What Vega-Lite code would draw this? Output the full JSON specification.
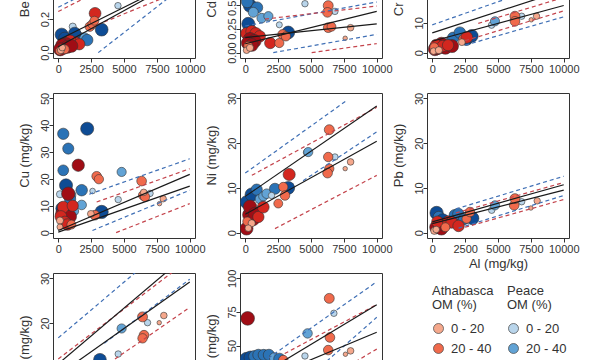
{
"$schema":"https://vega.github.io/schema/vega-lite/v6.json",
"autosize":{"type":"none"},
"padding":{"left":53,"top":-87,"right":547,"bottom":447},
"background":"white",
"datasets":{
"pts":[
{"p":"Be","a":4540,"v":0.28,"r":"P","c":"0 - 20","om":14},
{"p":"Be","a":1100,"v":0.155,"r":"P","c":"0 - 20","om":18},
{"p":"Be","a":3300,"v":0.137,"r":"P","c":"60 - 80","om":65},
{"p":"Be","a":260,"v":0.107,"r":"P","c":"60 - 80","om":68},
{"p":"Be","a":1400,"v":0.10,"r":"P","c":"40 - 60","om":50},
{"p":"Be","a":1700,"v":0.085,"r":"P","c":"40 - 60","om":48},
{"p":"Be","a":2000,"v":0.09,"r":"P","c":"20 - 40","om":35},
{"p":"Be","a":2200,"v":0.075,"r":"P","c":"40 - 60","om":52},
{"p":"Be","a":800,"v":0.06,"r":"P","c":"40 - 60","om":50},
{"p":"Be","a":500,"v":0.085,"r":"P","c":"60 - 80","om":62},
{"p":"Be","a":1250,"v":0.115,"r":"P","c":"60 - 80","om":60},
{"p":"Be","a":2800,"v":0.234,"r":"A","c":"40 - 60","om":55},
{"p":"Be","a":2400,"v":0.155,"r":"A","c":"20 - 40","om":35},
{"p":"Be","a":2600,"v":0.17,"r":"A","c":"20 - 40","om":32},
{"p":"Be","a":2750,"v":0.19,"r":"A","c":"20 - 40","om":30},
{"p":"Be","a":1300,"v":0.06,"r":"A","c":"40 - 60","om":52},
{"p":"Be","a":900,"v":0.07,"r":"A","c":"40 - 60","om":55},
{"p":"Be","a":1600,"v":0.05,"r":"A","c":"40 - 60","om":50},
{"p":"Be","a":600,"v":0.05,"r":"A","c":"60 - 80","om":70},
{"p":"Be","a":400,"v":0.03,"r":"A","c":"60 - 80","om":72},
{"p":"Be","a":300,"v":0.045,"r":"A","c":"60 - 80","om":65},
{"p":"Be","a":700,"v":0.035,"r":"A","c":"60 - 80","om":68},
{"p":"Be","a":1000,"v":0.04,"r":"A","c":"60 - 80","om":66},
{"p":"Be","a":150,"v":0.02,"r":"A","c":"60 - 80","om":70},
{"p":"Be","a":100,"v":0.01,"r":"A","c":"20 - 40","om":25},
{"p":"Be","a":500,"v":0.02,"r":"A","c":"20 - 40","om":30},
{"p":"Be","a":200,"v":0.015,"r":"A","c":"0 - 20","om":18},
{"p":"Be","a":300,"v":0.03,"r":"A","c":"0 - 20","om":15},

{"p":"Cd","a":360,"v":0.49,"r":"P","c":"60 - 80","om":70},
{"p":"Cd","a":150,"v":0.53,"r":"P","c":"40 - 60","om":55},
{"p":"Cd","a":900,"v":0.47,"r":"P","c":"40 - 60","om":50},
{"p":"Cd","a":610,"v":0.42,"r":"P","c":"20 - 40","om":38},
{"p":"Cd","a":1250,"v":0.36,"r":"P","c":"20 - 40","om":35},
{"p":"Cd","a":1760,"v":0.38,"r":"P","c":"20 - 40","om":32},
{"p":"Cd","a":4540,"v":0.51,"r":"P","c":"0 - 20","om":14},
{"p":"Cd","a":2590,"v":0.29,"r":"P","c":"0 - 20","om":12},
{"p":"Cd","a":230,"v":0.30,"r":"P","c":"60 - 80","om":68},
{"p":"Cd","a":3270,"v":0.21,"r":"P","c":"60 - 80","om":65},
{"p":"Cd","a":6820,"v":0.43,"r":"P","c":"0 - 20","om":14},
{"p":"Cd","a":100,"v":0.2,"r":"A","c":"40 - 60","om":55},
{"p":"Cd","a":500,"v":0.22,"r":"A","c":"40 - 60","om":58},
{"p":"Cd","a":800,"v":0.2,"r":"A","c":"40 - 60","om":55},
{"p":"Cd","a":1100,"v":0.17,"r":"A","c":"40 - 60","om":52},
{"p":"Cd","a":1900,"v":0.1,"r":"A","c":"40 - 60","om":50},
{"p":"Cd","a":360,"v":0.14,"r":"A","c":"60 - 80","om":72},
{"p":"Cd","a":700,"v":0.12,"r":"A","c":"60 - 80","om":70},
{"p":"Cd","a":200,"v":0.1,"r":"A","c":"60 - 80","om":68},
{"p":"Cd","a":500,"v":0.08,"r":"A","c":"60 - 80","om":65},
{"p":"Cd","a":2840,"v":0.19,"r":"A","c":"20 - 40","om":35},
{"p":"Cd","a":2590,"v":0.10,"r":"A","c":"20 - 40","om":32},
{"p":"Cd","a":3090,"v":0.17,"r":"A","c":"20 - 40","om":33},
{"p":"Cd","a":6310,"v":0.49,"r":"A","c":"20 - 40","om":38},
{"p":"Cd","a":6250,"v":0.42,"r":"A","c":"20 - 40","om":36},
{"p":"Cd","a":6310,"v":0.26,"r":"A","c":"20 - 40","om":36},
{"p":"Cd","a":6560,"v":0.27,"r":"A","c":"20 - 40","om":30},
{"p":"Cd","a":230,"v":0.07,"r":"A","c":"20 - 40","om":30},
{"p":"Cd","a":8010,"v":0.26,"r":"A","c":"0 - 20","om":15},
{"p":"Cd","a":7600,"v":0.15,"r":"A","c":"0 - 20","om":5},
{"p":"Cd","a":100,"v":0.025,"r":"A","c":"0 - 20","om":15},
{"p":"Cd","a":360,"v":0.05,"r":"A","c":"0 - 20","om":18},

{"p":"Cr","a":300,"v":1.8,"r":"P","c":"60 - 80","om":70},
{"p":"Cr","a":900,"v":2.6,"r":"P","c":"40 - 60","om":50},
{"p":"Cr","a":1300,"v":3.5,"r":"P","c":"20 - 40","om":35},
{"p":"Cr","a":1590,"v":5,"r":"P","c":"40 - 60","om":50},
{"p":"Cr","a":2100,"v":6.7,"r":"P","c":"40 - 60","om":52},
{"p":"Cr","a":2600,"v":4.5,"r":"P","c":"60 - 80","om":62},
{"p":"Cr","a":3000,"v":5.6,"r":"P","c":"60 - 80","om":65},
{"p":"Cr","a":4510,"v":9.2,"r":"P","c":"0 - 20","om":14},
{"p":"Cr","a":4770,"v":10.5,"r":"P","c":"20 - 40","om":32},
{"p":"Cr","a":6800,"v":12.2,"r":"P","c":"0 - 20","om":14},
{"p":"Cr","a":200,"v":1.2,"r":"A","c":"60 - 80","om":70},
{"p":"Cr","a":400,"v":1.5,"r":"A","c":"60 - 80","om":68},
{"p":"Cr","a":600,"v":2,"r":"A","c":"60 - 80","om":72},
{"p":"Cr","a":700,"v":3,"r":"A","c":"60 - 80","om":66},
{"p":"Cr","a":1000,"v":1.6,"r":"A","c":"60 - 80","om":65},
{"p":"Cr","a":1500,"v":2.2,"r":"A","c":"60 - 80","om":68},
{"p":"Cr","a":300,"v":2.5,"r":"A","c":"40 - 60","om":55},
{"p":"Cr","a":800,"v":2.2,"r":"A","c":"40 - 60","om":52},
{"p":"Cr","a":1200,"v":2.5,"r":"A","c":"40 - 60","om":50},
{"p":"Cr","a":150,"v":1.8,"r":"A","c":"20 - 40","om":30},
{"p":"Cr","a":2380,"v":4.6,"r":"A","c":"20 - 40","om":35},
{"p":"Cr","a":2630,"v":5.1,"r":"A","c":"40 - 60","om":55},
{"p":"Cr","a":6290,"v":12.2,"r":"A","c":"20 - 40","om":38},
{"p":"Cr","a":6290,"v":10.5,"r":"A","c":"20 - 40","om":36},
{"p":"Cr","a":100,"v":0.5,"r":"A","c":"0 - 20","om":15},
{"p":"Cr","a":500,"v":0.8,"r":"A","c":"0 - 20","om":18},
{"p":"Cr","a":2250,"v":3.5,"r":"A","c":"0 - 20","om":16},
{"p":"Cr","a":7930,"v":12.2,"r":"A","c":"0 - 20","om":14},
{"p":"Cr","a":7530,"v":11,"r":"A","c":"0 - 20","om":5},

{"p":"Cu","a":2200,"v":38.7,"r":"P","c":"60 - 80","om":68},
{"p":"Cu","a":380,"v":36.8,"r":"P","c":"40 - 60","om":50},
{"p":"Cu","a":760,"v":31.3,"r":"P","c":"40 - 60","om":48},
{"p":"Cu","a":380,"v":23.2,"r":"P","c":"40 - 60","om":45},
{"p":"Cu","a":4820,"v":22.6,"r":"P","c":"20 - 40","om":32},
{"p":"Cu","a":590,"v":17.6,"r":"P","c":"60 - 80","om":68},
{"p":"Cu","a":1780,"v":15.8,"r":"P","c":"40 - 60","om":52},
{"p":"Cu","a":1000,"v":14,"r":"P","c":"20 - 40","om":30},
{"p":"Cu","a":900,"v":12.5,"r":"P","c":"40 - 60","om":50},
{"p":"Cu","a":300,"v":9,"r":"P","c":"60 - 80","om":65},
{"p":"Cu","a":1200,"v":8,"r":"P","c":"20 - 40","om":32},
{"p":"Cu","a":600,"v":6.5,"r":"P","c":"40 - 60","om":50},
{"p":"Cu","a":1780,"v":10.3,"r":"P","c":"20 - 40","om":35},
{"p":"Cu","a":3300,"v":7.7,"r":"P","c":"60 - 80","om":70},
{"p":"Cu","a":4560,"v":12.3,"r":"P","c":"0 - 20","om":14},
{"p":"Cu","a":2610,"v":15.5,"r":"P","c":"0 - 20","om":10},
{"p":"Cu","a":6980,"v":14.6,"r":"P","c":"0 - 20","om":14},
{"p":"Cu","a":130,"v":14.3,"r":"P","c":"0 - 20","om":18},
{"p":"Cu","a":1520,"v":25.1,"r":"A","c":"60 - 80","om":60},
{"p":"Cu","a":760,"v":14.5,"r":"A","c":"60 - 80","om":72},
{"p":"Cu","a":300,"v":7,"r":"A","c":"60 - 80","om":70},
{"p":"Cu","a":600,"v":8.5,"r":"A","c":"60 - 80","om":70},
{"p":"Cu","a":900,"v":6,"r":"A","c":"60 - 80","om":66},
{"p":"Cu","a":380,"v":9.5,"r":"A","c":"40 - 60","om":55},
{"p":"Cu","a":1100,"v":10,"r":"A","c":"40 - 60","om":50},
{"p":"Cu","a":200,"v":6,"r":"A","c":"40 - 60","om":55},
{"p":"Cu","a":500,"v":4,"r":"A","c":"40 - 60","om":52},
{"p":"Cu","a":700,"v":3,"r":"A","c":"40 - 60","om":52},
{"p":"Cu","a":2920,"v":21,"r":"A","c":"20 - 40","om":35},
{"p":"Cu","a":3090,"v":19.9,"r":"A","c":"20 - 40","om":33},
{"p":"Cu","a":6340,"v":19.2,"r":"A","c":"20 - 40","om":36},
{"p":"Cu","a":6460,"v":13.9,"r":"A","c":"20 - 40","om":35},
{"p":"Cu","a":6600,"v":13.3,"r":"A","c":"20 - 40","om":33},
{"p":"Cu","a":2790,"v":6.5,"r":"A","c":"20 - 40","om":36},
{"p":"Cu","a":1000,"v":3,"r":"A","c":"20 - 40","om":30},
{"p":"Cu","a":6500,"v":15,"r":"A","c":"0 - 20","om":15},
{"p":"Cu","a":7980,"v":12.6,"r":"A","c":"0 - 20","om":14},
{"p":"Cu","a":7700,"v":10.8,"r":"A","c":"0 - 20","om":5},
{"p":"Cu","a":2480,"v":7,"r":"A","c":"0 - 20","om":16},
{"p":"Cu","a":130,"v":4.5,"r":"A","c":"0 - 20","om":18},
{"p":"Cu","a":130,"v":2.1,"r":"A","c":"0 - 20","om":12},

{"p":"Ni","a":100,"v":6.8,"r":"P","c":"60 - 80","om":66},
{"p":"Ni","a":490,"v":8.5,"r":"P","c":"60 - 80","om":70},
{"p":"Ni","a":870,"v":9.6,"r":"P","c":"40 - 60","om":50},
{"p":"Ni","a":1110,"v":7.5,"r":"P","c":"20 - 40","om":34},
{"p":"Ni","a":1370,"v":8.1,"r":"P","c":"20 - 40","om":32},
{"p":"Ni","a":1630,"v":8.7,"r":"P","c":"20 - 40","om":35},
{"p":"Ni","a":2260,"v":9.8,"r":"P","c":"40 - 60","om":48},
{"p":"Ni","a":2000,"v":8.3,"r":"P","c":"0 - 20","om":14},
{"p":"Ni","a":3270,"v":10,"r":"P","c":"60 - 80","om":65},
{"p":"Ni","a":4660,"v":17.9,"r":"P","c":"0 - 20","om":14},
{"p":"Ni","a":4790,"v":18,"r":"P","c":"20 - 40","om":32},
{"p":"Ni","a":6820,"v":16.9,"r":"P","c":"0 - 20","om":14},
{"p":"Ni","a":100,"v":0.9,"r":"A","c":"60 - 80","om":66},
{"p":"Ni","a":300,"v":4,"r":"A","c":"60 - 80","om":70},
{"p":"Ni","a":360,"v":5.8,"r":"A","c":"60 - 80","om":72},
{"p":"Ni","a":600,"v":3,"r":"A","c":"60 - 80","om":68},
{"p":"Ni","a":740,"v":4.2,"r":"A","c":"60 - 80","om":70},
{"p":"Ni","a":1000,"v":3.5,"r":"A","c":"40 - 60","om":50},
{"p":"Ni","a":1370,"v":5.7,"r":"A","c":"40 - 60","om":55},
{"p":"Ni","a":3340,"v":13,"r":"A","c":"40 - 60","om":58},
{"p":"Ni","a":150,"v":2.5,"r":"A","c":"20 - 40","om":30},
{"p":"Ni","a":2510,"v":6.5,"r":"A","c":"20 - 40","om":30},
{"p":"Ni","a":2890,"v":10.2,"r":"A","c":"20 - 40","om":33},
{"p":"Ni","a":3020,"v":8.3,"r":"A","c":"20 - 40","om":35},
{"p":"Ni","a":6390,"v":23,"r":"A","c":"20 - 40","om":38},
{"p":"Ni","a":6310,"v":16.9,"r":"A","c":"20 - 40","om":34},
{"p":"Ni","a":6390,"v":14.3,"r":"A","c":"20 - 40","om":33},
{"p":"Ni","a":6260,"v":13.3,"r":"A","c":"20 - 40","om":36},
{"p":"Ni","a":490,"v":2.1,"r":"A","c":"0 - 20","om":18},
{"p":"Ni","a":230,"v":1.0,"r":"A","c":"0 - 20","om":15},
{"p":"Ni","a":8010,"v":15.8,"r":"A","c":"0 - 20","om":15},
{"p":"Ni","a":7600,"v":14.3,"r":"A","c":"0 - 20","om":5},

{"p":"Pb","a":330,"v":4.4,"r":"P","c":"60 - 80","om":70},
{"p":"Pb","a":500,"v":3.5,"r":"P","c":"40 - 60","om":50},
{"p":"Pb","a":800,"v":2.8,"r":"P","c":"60 - 80","om":64},
{"p":"Pb","a":1300,"v":2.2,"r":"P","c":"20 - 40","om":34},
{"p":"Pb","a":1720,"v":3.9,"r":"P","c":"40 - 60","om":52},
{"p":"Pb","a":1980,"v":4.2,"r":"P","c":"40 - 60","om":50},
{"p":"Pb","a":2400,"v":3.0,"r":"P","c":"40 - 60","om":48},
{"p":"Pb","a":3060,"v":3.2,"r":"P","c":"60 - 80","om":65},
{"p":"Pb","a":4520,"v":5.0,"r":"P","c":"0 - 20","om":14},
{"p":"Pb","a":4770,"v":6.1,"r":"P","c":"20 - 40","om":32},
{"p":"Pb","a":6800,"v":6.9,"r":"P","c":"0 - 20","om":14},
{"p":"Pb","a":300,"v":1.2,"r":"A","c":"60 - 80","om":68},
{"p":"Pb","a":600,"v":1.5,"r":"A","c":"60 - 80","om":72},
{"p":"Pb","a":700,"v":0.9,"r":"A","c":"60 - 80","om":66},
{"p":"Pb","a":900,"v":1.8,"r":"A","c":"60 - 80","om":70},
{"p":"Pb","a":400,"v":2.4,"r":"A","c":"40 - 60","om":55},
{"p":"Pb","a":1200,"v":2.5,"r":"A","c":"40 - 60","om":50},
{"p":"Pb","a":1480,"v":2.3,"r":"A","c":"40 - 60","om":55},
{"p":"Pb","a":2000,"v":1.5,"r":"A","c":"40 - 60","om":52},
{"p":"Pb","a":1000,"v":1.2,"r":"A","c":"20 - 40","om":30},
{"p":"Pb","a":2610,"v":3.1,"r":"A","c":"20 - 40","om":32},
{"p":"Pb","a":2870,"v":4.6,"r":"A","c":"20 - 40","om":35},
{"p":"Pb","a":6230,"v":6.1,"r":"A","c":"20 - 40","om":36},
{"p":"Pb","a":6290,"v":7.6,"r":"A","c":"20 - 40","om":38},
{"p":"Pb","a":150,"v":0.4,"r":"A","c":"0 - 20","om":18},
{"p":"Pb","a":300,"v":0.7,"r":"A","c":"0 - 20","om":15},
{"p":"Pb","a":7980,"v":7.1,"r":"A","c":"0 - 20","om":14},
{"p":"Pb","a":7500,"v":5.5,"r":"A","c":"0 - 20","om":5},

{"p":"V","a":800,"v":5,"r":"P","c":"60 - 80","om":68},
{"p":"V","a":2000,"v":8,"r":"P","c":"40 - 60","om":50},
{"p":"V","a":3170,"v":11.8,"r":"P","c":"60 - 80","om":65},
{"p":"V","a":4560,"v":13.1,"r":"P","c":"0 - 20","om":14},
{"p":"V","a":4820,"v":18.8,"r":"P","c":"20 - 40","om":32},
{"p":"V","a":6790,"v":20.1,"r":"P","c":"0 - 20","om":14},
{"p":"V","a":500,"v":3,"r":"A","c":"60 - 80","om":70},
{"p":"V","a":1500,"v":6,"r":"A","c":"60 - 80","om":70},
{"p":"V","a":2800,"v":9,"r":"A","c":"40 - 60","om":55},
{"p":"V","a":6410,"v":21.4,"r":"A","c":"20 - 40","om":38},
{"p":"V","a":6520,"v":17.3,"r":"A","c":"20 - 40","om":36},
{"p":"V","a":6410,"v":16.6,"r":"A","c":"20 - 40","om":34},
{"p":"V","a":8030,"v":21.7,"r":"A","c":"0 - 20","om":15},
{"p":"V","a":7680,"v":20.1,"r":"A","c":"0 - 20","om":5},

{"p":"Zn","a":100,"v":40,"r":"P","c":"60 - 80","om":70},
{"p":"Zn","a":400,"v":41,"r":"P","c":"60 - 80","om":68},
{"p":"Zn","a":700,"v":42,"r":"P","c":"40 - 60","om":52},
{"p":"Zn","a":1000,"v":43,"r":"P","c":"40 - 60","om":50},
{"p":"Zn","a":1400,"v":43,"r":"P","c":"40 - 60","om":48},
{"p":"Zn","a":1800,"v":43,"r":"P","c":"40 - 60","om":50},
{"p":"Zn","a":2200,"v":41,"r":"P","c":"20 - 40","om":35},
{"p":"Zn","a":2600,"v":40,"r":"P","c":"40 - 60","om":52},
{"p":"Zn","a":4540,"v":42.2,"r":"P","c":"0 - 20","om":14},
{"p":"Zn","a":4740,"v":59,"r":"P","c":"20 - 40","om":34},
{"p":"Zn","a":6740,"v":74,"r":"P","c":"0 - 20","om":14},
{"p":"Zn","a":180,"v":70.2,"r":"A","c":"60 - 80","om":75},
{"p":"Zn","a":2890,"v":39.2,"r":"A","c":"20 - 40","om":34},
{"p":"Zn","a":6390,"v":85.1,"r":"A","c":"20 - 40","om":38},
{"p":"Zn","a":6440,"v":56,"r":"A","c":"20 - 40","om":36},
{"p":"Zn","a":6310,"v":46.6,"r":"A","c":"20 - 40","om":35},
{"p":"Zn","a":8010,"v":46,"r":"A","c":"0 - 20","om":15},
{"p":"Zn","a":7620,"v":43.5,"r":"A","c":"0 - 20","om":5}
],
"lns":[
{"p":"Be","id":"f1","k":"fit","r":"A","a":0,"v":0.075},{"p":"Be","id":"f1","k":"fit","r":"A","a":10000,"v":0.465},
{"p":"Be","id":"f2","k":"fit","r":"A","a":0,"v":0.035},{"p":"Be","id":"f2","k":"fit","r":"A","a":10000,"v":0.465},
{"p":"Be","id":"u1","k":"pi","r":"P","a":0,"v":0.27},{"p":"Be","id":"u1","k":"pi","r":"P","a":10000,"v":0.67},
{"p":"Be","id":"u2","k":"pi","r":"A","a":0,"v":0.245},{"p":"Be","id":"u2","k":"pi","r":"A","a":10000,"v":0.645},
{"p":"Be","id":"l1","k":"pi","r":"A","a":3000,"v":0.167},{"p":"Be","id":"l1","k":"pi","r":"A","a":10000,"v":0.39},
{"p":"Be","id":"l2","k":"pi","r":"P","a":3040,"v":0},{"p":"Be","id":"l2","k":"pi","r":"P","a":10000,"v":0.425},

{"p":"Cd","id":"f1","k":"fit","r":"A","a":0,"v":0.093},{"p":"Cd","id":"f1","k":"fit","r":"A","a":10000,"v":0.43},
{"p":"Cd","id":"f2","k":"fit","r":"A","a":0,"v":0.157},{"p":"Cd","id":"f2","k":"fit","r":"A","a":10000,"v":0.30},
{"p":"Cd","id":"u1","k":"pi","r":"P","a":0,"v":0.278},{"p":"Cd","id":"u1","k":"pi","r":"P","a":10000,"v":0.528},
{"p":"Cd","id":"u2","k":"pi","r":"A","a":1500,"v":0.35},{"p":"Cd","id":"u2","k":"pi","r":"A","a":10000,"v":0.486},
{"p":"Cd","id":"l1","k":"pi","r":"P","a":2130,"v":0},{"p":"Cd","id":"l1","k":"pi","r":"P","a":10000,"v":0.19},
{"p":"Cd","id":"l2","k":"pi","r":"A","a":5050,"v":0},{"p":"Cd","id":"l2","k":"pi","r":"A","a":10000,"v":0.094},

{"p":"Cr","id":"f1","k":"fit","r":"A","a":0,"v":6.6},{"p":"Cr","id":"f1","k":"fit","r":"A","a":10000,"v":20.9},
{"p":"Cr","id":"f2","k":"fit","r":"A","a":0,"v":3.8},{"p":"Cr","id":"f2","k":"fit","r":"A","a":10000,"v":15.8},
{"p":"Cr","id":"u1","k":"pi","r":"P","a":0,"v":9.3},{"p":"Cr","id":"u1","k":"pi","r":"P","a":10000,"v":24.8},
{"p":"Cr","id":"u2","k":"pi","r":"A","a":3500,"v":9.8},{"p":"Cr","id":"u2","k":"pi","r":"A","a":10000,"v":18.5},
{"p":"Cr","id":"l1","k":"pi","r":"A","a":2500,"v":4.0},{"p":"Cr","id":"l1","k":"pi","r":"A","a":10000,"v":14.0},
{"p":"Cr","id":"l2","k":"pi","r":"P","a":2500,"v":2.5},{"p":"Cr","id":"l2","k":"pi","r":"P","a":10000,"v":12.0},

{"p":"Cu","id":"f1","k":"fit","r":"A","a":0,"v":0.8},{"p":"Cu","id":"f1","k":"fit","r":"A","a":10000,"v":21.7},
{"p":"Cu","id":"f2","k":"fit","r":"A","a":0,"v":0.2},{"p":"Cu","id":"f2","k":"fit","r":"A","a":10000,"v":17.3},
{"p":"Cu","id":"u1","k":"pi","r":"P","a":2360,"v":14.3},{"p":"Cu","id":"u1","k":"pi","r":"P","a":10000,"v":27.5},
{"p":"Cu","id":"u2","k":"pi","r":"A","a":2920,"v":11.4},{"p":"Cu","id":"u2","k":"pi","r":"A","a":10000,"v":23.8},
{"p":"Cu","id":"l1","k":"pi","r":"P","a":2600,"v":0.8},{"p":"Cu","id":"l1","k":"pi","r":"P","a":10000,"v":15.8},
{"p":"Cu","id":"l2","k":"pi","r":"A","a":4400,"v":0},{"p":"Cu","id":"l2","k":"pi","r":"A","a":10000,"v":10.8},

{"p":"Ni","id":"f1","k":"fit","r":"A","a":0,"v":8.1},{"p":"Ni","id":"f1","k":"fit","r":"A","a":10000,"v":28.3},
{"p":"Ni","id":"f2","k":"fit","r":"A","a":0,"v":4.1},{"p":"Ni","id":"f2","k":"fit","r":"A","a":10000,"v":20.4},
{"p":"Ni","id":"u1","k":"pi","r":"P","a":0,"v":13.3},{"p":"Ni","id":"u1","k":"pi","r":"P","a":7750,"v":29.6},
{"p":"Ni","id":"u2","k":"pi","r":"A","a":500,"v":12.8},{"p":"Ni","id":"u2","k":"pi","r":"A","a":10000,"v":28.0},
{"p":"Ni","id":"l1","k":"pi","r":"P","a":4400,"v":11.6},{"p":"Ni","id":"l1","k":"pi","r":"P","a":10000,"v":22.5},
{"p":"Ni","id":"l2","k":"pi","r":"A","a":2260,"v":0.9},{"p":"Ni","id":"l2","k":"pi","r":"A","a":10000,"v":12.8},

{"p":"Pb","id":"f1","k":"fit","r":"A","a":0,"v":2.4},{"p":"Pb","id":"f1","k":"fit","r":"A","a":10000,"v":10.7},
{"p":"Pb","id":"f2","k":"fit","r":"A","a":0,"v":2.0},{"p":"Pb","id":"f2","k":"fit","r":"A","a":10000,"v":9.5},
{"p":"Pb","id":"u1","k":"pi","r":"P","a":1800,"v":5.3},{"p":"Pb","id":"u1","k":"pi","r":"P","a":10000,"v":12.6},
{"p":"Pb","id":"u2","k":"pi","r":"A","a":1800,"v":4.4},{"p":"Pb","id":"u2","k":"pi","r":"A","a":10000,"v":11.2},
{"p":"Pb","id":"l1","k":"pi","r":"P","a":2000,"v":1.0},{"p":"Pb","id":"l1","k":"pi","r":"P","a":10000,"v":8.3},
{"p":"Pb","id":"l2","k":"pi","r":"A","a":2500,"v":1.2},{"p":"Pb","id":"l2","k":"pi","r":"A","a":10000,"v":7.4},

{"p":"V","id":"f1","k":"fit","r":"A","a":0,"v":10.9},{"p":"V","id":"f1","k":"fit","r":"A","a":10000,"v":35.8},
{"p":"V","id":"f2","k":"fit","r":"A","a":0,"v":8.4},{"p":"V","id":"f2","k":"fit","r":"A","a":10000,"v":29.2},
{"p":"V","id":"u1","k":"pi","r":"P","a":0,"v":16.7},{"p":"V","id":"u1","k":"pi","r":"P","a":10000,"v":41.6},
{"p":"V","id":"u2","k":"pi","r":"A","a":0,"v":12.0},{"p":"V","id":"u2","k":"pi","r":"A","a":10000,"v":34.3},
{"p":"V","id":"l1","k":"pi","r":"P","a":3500,"v":15.5},{"p":"V","id":"l1","k":"pi","r":"P","a":10000,"v":29.8},
{"p":"V","id":"l2","k":"pi","r":"A","a":3000,"v":9.3},{"p":"V","id":"l2","k":"pi","r":"A","a":10000,"v":23.5},

{"p":"Zn","id":"f1","k":"fit","r":"A","a":0,"v":21.3},{"p":"Zn","id":"f1","k":"fit","r":"A","a":10000,"v":80.3},
{"p":"Zn","id":"f2","k":"fit","r":"A","a":0,"v":19},{"p":"Zn","id":"f2","k":"fit","r":"A","a":10000,"v":59.9},
{"p":"Zn","id":"u1","k":"pi","r":"P","a":0,"v":28.5},{"p":"Zn","id":"u1","k":"pi","r":"P","a":10000,"v":97.5},
{"p":"Zn","id":"u2","k":"pi","r":"A","a":3000,"v":44},{"p":"Zn","id":"u2","k":"pi","r":"A","a":10000,"v":80.5},
{"p":"Zn","id":"l1","k":"pi","r":"P","a":5000,"v":28},{"p":"Zn","id":"l1","k":"pi","r":"P","a":10000,"v":71},
{"p":"Zn","id":"l2","k":"pi","r":"A","a":7000,"v":30},{"p":"Zn","id":"l2","k":"pi","r":"A","a":10000,"v":47.3}
]
},
"columns":3,
"spacing":{"row":35,"column":45},
"bounds":"flush",
"resolve":{"scale":{"x":"independent","y":"independent"}},
"concat":[
{"width":142,"height":145,
 "encoding":{"x":{"field":"a","type":"quantitative","scale":{"domain":[-400,10400],"nice":false,"zero":false},"axis":{"values":[0,2500,5000,7500,10000],"format":"d","title":null}},
  "y":{"field":"v","type":"quantitative","scale":{"domain":[-0.032,0.832],"nice":false,"zero":false},"axis":{"values":[0,0.2,0.4,0.6,0.8],"format":".1f","title":"Be (mg/kg)","titleX":-29,"titleY":72}}},
 "layer":[
  {"data":{"name":"pts"},"transform":[{"filter":"datum.p=='Be' && datum.r=='P'"}],"mark":{"type":"point","shape":"circle","filled":true,"opacity":1,"stroke":"#333","strokeWidth":0.6,"clip":true},
   "encoding":{"fill":{"field":"c","type":"nominal","scale":{"domain":["0 - 20","20 - 40","40 - 60","60 - 80","80 - 100"],"range":["#B9D5EB","#62A3D5","#2B73B6","#0E4C95","#08306B"]},"legend":{"title":["Peace","OM (%)"],"orient":"none","legendX":454,"legendY":372,"encode":{"symbols":{"update":{"size":{"signal":"datum.value=='0 - 20'?22:datum.value=='20 - 40'?75:datum.value=='40 - 60'?115:150"}}}}}},
    "size":{"field":"om","type":"quantitative","scale":{"domain":[0,80],"range":[8,200]},"legend":null}}},
  {"data":{"name":"pts"},"transform":[{"filter":"datum.p=='Be' && datum.r=='A'"}],"mark":{"type":"point","shape":"circle","filled":true,"opacity":1,"stroke":"#333","strokeWidth":0.6,"clip":true},
   "encoding":{"color":{"field":"c","type":"nominal","scale":{"domain":["0 - 20","20 - 40","40 - 60","60 - 80"],"range":["#F5A88C","#F06A4C","#D3271F","#A00D15"]},"legend":{"title":["Athabasca","OM (%)"],"orient":"none","legendX":379,"legendY":372,"encode":{"symbols":{"update":{"size":{"signal":"datum.value=='0 - 20'?22:datum.value=='20 - 40'?75:datum.value=='40 - 60'?115:150"}}}}}},
    "size":{"field":"om","type":"quantitative","scale":{"domain":[0,80],"range":[8,200]},"legend":null}}},
  {"data":{"name":"lns"},"transform":[{"filter":"datum.p=='Be' && datum.k=='pi'"}],"mark":{"type":"line","strokeDash":[4,3],"strokeWidth":1.2,"clip":true},"encoding":{"detail":{"field":"id","type":"nominal"},"stroke":{"field":"r","type":"nominal","scale":{"domain":["A","P"],"range":["#C4444C","#3F6FB5"]},"legend":null}}},
  {"data":{"name":"lns"},"transform":[{"filter":"datum.p=='Be' && datum.k=='fit'"}],"mark":{"type":"line","color":"#1a1a1a","strokeWidth":1.2,"clip":true},"encoding":{"detail":{"field":"id","type":"nominal"}}}
 ]},
{"width":142,"height":145,
 "encoding":{"x":{"field":"a","type":"quantitative","scale":{"domain":[-400,10400],"nice":false,"zero":false},"axis":{"values":[0,2500,5000,7500,10000],"format":"d","title":null}},
  "y":{"field":"v","type":"quantitative","scale":{"domain":[-0.056,1.456],"nice":false,"zero":false},"axis":{"values":[0,0.25,0.5,0.75,1,1.25],"format":".2f","title":"Cd (mg/kg)","titleX":-29,"titleY":72}}},
 "layer":[
  {"data":{"name":"pts"},"transform":[{"filter":"datum.p=='Cd' && datum.r=='P'"}],"mark":{"type":"point","shape":"circle","filled":true,"opacity":1,"stroke":"#333","strokeWidth":0.6,"clip":true},
   "encoding":{"fill":{"field":"c","type":"nominal","scale":{"domain":["0 - 20","20 - 40","40 - 60","60 - 80","80 - 100"],"range":["#B9D5EB","#62A3D5","#2B73B6","#0E4C95","#08306B"]},"legend":{"title":["Peace","OM (%)"],"orient":"none","legendX":454,"legendY":372,"encode":{"symbols":{"update":{"size":{"signal":"datum.value=='0 - 20'?22:datum.value=='20 - 40'?75:datum.value=='40 - 60'?115:150"}}}}}},
    "size":{"field":"om","type":"quantitative","scale":{"domain":[0,80],"range":[8,200]},"legend":null}}},
  {"data":{"name":"pts"},"transform":[{"filter":"datum.p=='Cd' && datum.r=='A'"}],"mark":{"type":"point","shape":"circle","filled":true,"opacity":1,"stroke":"#333","strokeWidth":0.6,"clip":true},
   "encoding":{"color":{"field":"c","type":"nominal","scale":{"domain":["0 - 20","20 - 40","40 - 60","60 - 80"],"range":["#F5A88C","#F06A4C","#D3271F","#A00D15"]},"legend":{"title":["Athabasca","OM (%)"],"orient":"none","legendX":379,"legendY":372,"encode":{"symbols":{"update":{"size":{"signal":"datum.value=='0 - 20'?22:datum.value=='20 - 40'?75:datum.value=='40 - 60'?115:150"}}}}}},
    "size":{"field":"om","type":"quantitative","scale":{"domain":[0,80],"range":[8,200]},"legend":null}}},
  {"data":{"name":"lns"},"transform":[{"filter":"datum.p=='Cd' && datum.k=='pi'"}],"mark":{"type":"line","strokeDash":[4,3],"strokeWidth":1.2,"clip":true},"encoding":{"detail":{"field":"id","type":"nominal"},"stroke":{"field":"r","type":"nominal","scale":{"domain":["A","P"],"range":["#C4444C","#3F6FB5"]},"legend":null}}},
  {"data":{"name":"lns"},"transform":[{"filter":"datum.p=='Cd' && datum.k=='fit'"}],"mark":{"type":"line","color":"#1a1a1a","strokeWidth":1.2,"clip":true},"encoding":{"detail":{"field":"id","type":"nominal"}}}
 ]},
{"width":142,"height":145,
 "encoding":{"x":{"field":"a","type":"quantitative","scale":{"domain":[-400,10400],"nice":false,"zero":false},"axis":{"values":[0,2500,5000,7500,10000],"format":"d","title":null}},
  "y":{"field":"v","type":"quantitative","scale":{"domain":[-1.8,46.8],"nice":false,"zero":false},"axis":{"values":[0,10,20,30,40],"title":"Cr (mg/kg)","titleX":-29,"titleY":72}}},
 "layer":[
  {"data":{"name":"pts"},"transform":[{"filter":"datum.p=='Cr' && datum.r=='P'"}],"mark":{"type":"point","shape":"circle","filled":true,"opacity":1,"stroke":"#333","strokeWidth":0.6,"clip":true},
   "encoding":{"fill":{"field":"c","type":"nominal","scale":{"domain":["0 - 20","20 - 40","40 - 60","60 - 80","80 - 100"],"range":["#B9D5EB","#62A3D5","#2B73B6","#0E4C95","#08306B"]},"legend":{"title":["Peace","OM (%)"],"orient":"none","legendX":454,"legendY":372,"encode":{"symbols":{"update":{"size":{"signal":"datum.value=='0 - 20'?22:datum.value=='20 - 40'?75:datum.value=='40 - 60'?115:150"}}}}}},
    "size":{"field":"om","type":"quantitative","scale":{"domain":[0,80],"range":[8,200]},"legend":null}}},
  {"data":{"name":"pts"},"transform":[{"filter":"datum.p=='Cr' && datum.r=='A'"}],"mark":{"type":"point","shape":"circle","filled":true,"opacity":1,"stroke":"#333","strokeWidth":0.6,"clip":true},
   "encoding":{"color":{"field":"c","type":"nominal","scale":{"domain":["0 - 20","20 - 40","40 - 60","60 - 80"],"range":["#F5A88C","#F06A4C","#D3271F","#A00D15"]},"legend":{"title":["Athabasca","OM (%)"],"orient":"none","legendX":379,"legendY":372,"encode":{"symbols":{"update":{"size":{"signal":"datum.value=='0 - 20'?22:datum.value=='20 - 40'?75:datum.value=='40 - 60'?115:150"}}}}}},
    "size":{"field":"om","type":"quantitative","scale":{"domain":[0,80],"range":[8,200]},"legend":null}}},
  {"data":{"name":"lns"},"transform":[{"filter":"datum.p=='Cr' && datum.k=='pi'"}],"mark":{"type":"line","strokeDash":[4,3],"strokeWidth":1.2,"clip":true},"encoding":{"detail":{"field":"id","type":"nominal"},"stroke":{"field":"r","type":"nominal","scale":{"domain":["A","P"],"range":["#C4444C","#3F6FB5"]},"legend":null}}},
  {"data":{"name":"lns"},"transform":[{"filter":"datum.p=='Cr' && datum.k=='fit'"}],"mark":{"type":"line","color":"#1a1a1a","strokeWidth":1.2,"clip":true},"encoding":{"detail":{"field":"id","type":"nominal"}}}
 ]},
{"width":142,"height":145,
 "encoding":{"x":{"field":"a","type":"quantitative","scale":{"domain":[-400,10400],"nice":false,"zero":false},"axis":{"values":[0,2500,5000,7500,10000],"format":"d","title":null}},
  "y":{"field":"v","type":"quantitative","scale":{"domain":[-2,52],"nice":false,"zero":false},"axis":{"values":[0,10,20,30,40,50],"title":"Cu (mg/kg)","titleX":-29,"titleY":62}}},
 "layer":[
  {"data":{"name":"pts"},"transform":[{"filter":"datum.p=='Cu' && datum.r=='P'"}],"mark":{"type":"point","shape":"circle","filled":true,"opacity":1,"stroke":"#333","strokeWidth":0.6,"clip":true},
   "encoding":{"fill":{"field":"c","type":"nominal","scale":{"domain":["0 - 20","20 - 40","40 - 60","60 - 80","80 - 100"],"range":["#B9D5EB","#62A3D5","#2B73B6","#0E4C95","#08306B"]},"legend":{"title":["Peace","OM (%)"],"orient":"none","legendX":454,"legendY":372,"encode":{"symbols":{"update":{"size":{"signal":"datum.value=='0 - 20'?22:datum.value=='20 - 40'?75:datum.value=='40 - 60'?115:150"}}}}}},
    "size":{"field":"om","type":"quantitative","scale":{"domain":[0,80],"range":[8,200]},"legend":null}}},
  {"data":{"name":"pts"},"transform":[{"filter":"datum.p=='Cu' && datum.r=='A'"}],"mark":{"type":"point","shape":"circle","filled":true,"opacity":1,"stroke":"#333","strokeWidth":0.6,"clip":true},
   "encoding":{"color":{"field":"c","type":"nominal","scale":{"domain":["0 - 20","20 - 40","40 - 60","60 - 80"],"range":["#F5A88C","#F06A4C","#D3271F","#A00D15"]},"legend":{"title":["Athabasca","OM (%)"],"orient":"none","legendX":379,"legendY":372,"encode":{"symbols":{"update":{"size":{"signal":"datum.value=='0 - 20'?22:datum.value=='20 - 40'?75:datum.value=='40 - 60'?115:150"}}}}}},
    "size":{"field":"om","type":"quantitative","scale":{"domain":[0,80],"range":[8,200]},"legend":null}}},
  {"data":{"name":"lns"},"transform":[{"filter":"datum.p=='Cu' && datum.k=='pi'"}],"mark":{"type":"line","strokeDash":[4,3],"strokeWidth":1.2,"clip":true},"encoding":{"detail":{"field":"id","type":"nominal"},"stroke":{"field":"r","type":"nominal","scale":{"domain":["A","P"],"range":["#C4444C","#3F6FB5"]},"legend":null}}},
  {"data":{"name":"lns"},"transform":[{"filter":"datum.p=='Cu' && datum.k=='fit'"}],"mark":{"type":"line","color":"#1a1a1a","strokeWidth":1.2,"clip":true},"encoding":{"detail":{"field":"id","type":"nominal"}}}
 ]},
{"width":142,"height":145,
 "encoding":{"x":{"field":"a","type":"quantitative","scale":{"domain":[-400,10400],"nice":false,"zero":false},"axis":{"values":[0,2500,5000,7500,10000],"format":"d","title":null}},
  "y":{"field":"v","type":"quantitative","scale":{"domain":[-1.2,31.2],"nice":false,"zero":false},"axis":{"values":[0,10,20,30],"title":"Ni (mg/kg)","titleX":-29,"titleY":62}}},
 "layer":[
  {"data":{"name":"pts"},"transform":[{"filter":"datum.p=='Ni' && datum.r=='P'"}],"mark":{"type":"point","shape":"circle","filled":true,"opacity":1,"stroke":"#333","strokeWidth":0.6,"clip":true},
   "encoding":{"fill":{"field":"c","type":"nominal","scale":{"domain":["0 - 20","20 - 40","40 - 60","60 - 80","80 - 100"],"range":["#B9D5EB","#62A3D5","#2B73B6","#0E4C95","#08306B"]},"legend":{"title":["Peace","OM (%)"],"orient":"none","legendX":454,"legendY":372,"encode":{"symbols":{"update":{"size":{"signal":"datum.value=='0 - 20'?22:datum.value=='20 - 40'?75:datum.value=='40 - 60'?115:150"}}}}}},
    "size":{"field":"om","type":"quantitative","scale":{"domain":[0,80],"range":[8,200]},"legend":null}}},
  {"data":{"name":"pts"},"transform":[{"filter":"datum.p=='Ni' && datum.r=='A'"}],"mark":{"type":"point","shape":"circle","filled":true,"opacity":1,"stroke":"#333","strokeWidth":0.6,"clip":true},
   "encoding":{"color":{"field":"c","type":"nominal","scale":{"domain":["0 - 20","20 - 40","40 - 60","60 - 80"],"range":["#F5A88C","#F06A4C","#D3271F","#A00D15"]},"legend":{"title":["Athabasca","OM (%)"],"orient":"none","legendX":379,"legendY":372,"encode":{"symbols":{"update":{"size":{"signal":"datum.value=='0 - 20'?22:datum.value=='20 - 40'?75:datum.value=='40 - 60'?115:150"}}}}}},
    "size":{"field":"om","type":"quantitative","scale":{"domain":[0,80],"range":[8,200]},"legend":null}}},
  {"data":{"name":"lns"},"transform":[{"filter":"datum.p=='Ni' && datum.k=='pi'"}],"mark":{"type":"line","strokeDash":[4,3],"strokeWidth":1.2,"clip":true},"encoding":{"detail":{"field":"id","type":"nominal"},"stroke":{"field":"r","type":"nominal","scale":{"domain":["A","P"],"range":["#C4444C","#3F6FB5"]},"legend":null}}},
  {"data":{"name":"lns"},"transform":[{"filter":"datum.p=='Ni' && datum.k=='fit'"}],"mark":{"type":"line","color":"#1a1a1a","strokeWidth":1.2,"clip":true},"encoding":{"detail":{"field":"id","type":"nominal"}}}
 ]},
{"width":142,"height":145,
 "encoding":{"x":{"field":"a","type":"quantitative","scale":{"domain":[-400,10400],"nice":false,"zero":false},"axis":{"values":[0,2500,5000,7500,10000],"format":"d","title":"Al (mg/kg)"}},
  "y":{"field":"v","type":"quantitative","scale":{"domain":[-1.2,31.2],"nice":false,"zero":false},"axis":{"values":[0,10,20,30],"title":"Pb (mg/kg)","titleX":-29,"titleY":62}}},
 "layer":[
  {"data":{"name":"pts"},"transform":[{"filter":"datum.p=='Pb' && datum.r=='P'"}],"mark":{"type":"point","shape":"circle","filled":true,"opacity":1,"stroke":"#333","strokeWidth":0.6,"clip":true},
   "encoding":{"fill":{"field":"c","type":"nominal","scale":{"domain":["0 - 20","20 - 40","40 - 60","60 - 80","80 - 100"],"range":["#B9D5EB","#62A3D5","#2B73B6","#0E4C95","#08306B"]},"legend":{"title":["Peace","OM (%)"],"orient":"none","legendX":454,"legendY":372,"encode":{"symbols":{"update":{"size":{"signal":"datum.value=='0 - 20'?22:datum.value=='20 - 40'?75:datum.value=='40 - 60'?115:150"}}}}}},
    "size":{"field":"om","type":"quantitative","scale":{"domain":[0,80],"range":[8,200]},"legend":null}}},
  {"data":{"name":"pts"},"transform":[{"filter":"datum.p=='Pb' && datum.r=='A'"}],"mark":{"type":"point","shape":"circle","filled":true,"opacity":1,"stroke":"#333","strokeWidth":0.6,"clip":true},
   "encoding":{"color":{"field":"c","type":"nominal","scale":{"domain":["0 - 20","20 - 40","40 - 60","60 - 80"],"range":["#F5A88C","#F06A4C","#D3271F","#A00D15"]},"legend":{"title":["Athabasca","OM (%)"],"orient":"none","legendX":379,"legendY":372,"encode":{"symbols":{"update":{"size":{"signal":"datum.value=='0 - 20'?22:datum.value=='20 - 40'?75:datum.value=='40 - 60'?115:150"}}}}}},
    "size":{"field":"om","type":"quantitative","scale":{"domain":[0,80],"range":[8,200]},"legend":null}}},
  {"data":{"name":"lns"},"transform":[{"filter":"datum.p=='Pb' && datum.k=='pi'"}],"mark":{"type":"line","strokeDash":[4,3],"strokeWidth":1.2,"clip":true},"encoding":{"detail":{"field":"id","type":"nominal"},"stroke":{"field":"r","type":"nominal","scale":{"domain":["A","P"],"range":["#C4444C","#3F6FB5"]},"legend":null}}},
  {"data":{"name":"lns"},"transform":[{"filter":"datum.p=='Pb' && datum.k=='fit'"}],"mark":{"type":"line","color":"#1a1a1a","strokeWidth":1.2,"clip":true},"encoding":{"detail":{"field":"id","type":"nominal"}}}
 ]},
{"width":142,"height":145,
 "encoding":{"x":{"field":"a","type":"quantitative","scale":{"domain":[-400,10400],"nice":false,"zero":false},"axis":{"values":[0,2500,5000,7500,10000],"format":"d","title":null}},
  "y":{"field":"v","type":"quantitative","scale":{"domain":[-1.2,31.2],"nice":false,"zero":false},"axis":{"values":[0,10,20,30],"title":"V (mg/kg)","titleX":-29,"titleY":70}}},
 "layer":[
  {"data":{"name":"pts"},"transform":[{"filter":"datum.p=='V' && datum.r=='P'"}],"mark":{"type":"point","shape":"circle","filled":true,"opacity":1,"stroke":"#333","strokeWidth":0.6,"clip":true},
   "encoding":{"fill":{"field":"c","type":"nominal","scale":{"domain":["0 - 20","20 - 40","40 - 60","60 - 80","80 - 100"],"range":["#B9D5EB","#62A3D5","#2B73B6","#0E4C95","#08306B"]},"legend":{"title":["Peace","OM (%)"],"orient":"none","legendX":454,"legendY":372,"encode":{"symbols":{"update":{"size":{"signal":"datum.value=='0 - 20'?22:datum.value=='20 - 40'?75:datum.value=='40 - 60'?115:150"}}}}}},
    "size":{"field":"om","type":"quantitative","scale":{"domain":[0,80],"range":[8,200]},"legend":null}}},
  {"data":{"name":"pts"},"transform":[{"filter":"datum.p=='V' && datum.r=='A'"}],"mark":{"type":"point","shape":"circle","filled":true,"opacity":1,"stroke":"#333","strokeWidth":0.6,"clip":true},
   "encoding":{"color":{"field":"c","type":"nominal","scale":{"domain":["0 - 20","20 - 40","40 - 60","60 - 80"],"range":["#F5A88C","#F06A4C","#D3271F","#A00D15"]},"legend":{"title":["Athabasca","OM (%)"],"orient":"none","legendX":379,"legendY":372,"encode":{"symbols":{"update":{"size":{"signal":"datum.value=='0 - 20'?22:datum.value=='20 - 40'?75:datum.value=='40 - 60'?115:150"}}}}}},
    "size":{"field":"om","type":"quantitative","scale":{"domain":[0,80],"range":[8,200]},"legend":null}}},
  {"data":{"name":"lns"},"transform":[{"filter":"datum.p=='V' && datum.k=='pi'"}],"mark":{"type":"line","strokeDash":[4,3],"strokeWidth":1.2,"clip":true},"encoding":{"detail":{"field":"id","type":"nominal"},"stroke":{"field":"r","type":"nominal","scale":{"domain":["A","P"],"range":["#C4444C","#3F6FB5"]},"legend":null}}},
  {"data":{"name":"lns"},"transform":[{"filter":"datum.p=='V' && datum.k=='fit'"}],"mark":{"type":"line","color":"#1a1a1a","strokeWidth":1.2,"clip":true},"encoding":{"detail":{"field":"id","type":"nominal"}}}
 ]},
{"width":142,"height":145,
 "encoding":{"x":{"field":"a","type":"quantitative","scale":{"domain":[-400,10400],"nice":false,"zero":false},"axis":{"values":[0,2500,5000,7500,10000],"format":"d","title":null}},
  "y":{"field":"v","type":"quantitative","scale":{"domain":[-4,104],"nice":false,"zero":false},"axis":{"values":[0,25,50,75,100],"title":"Zn (mg/kg)","titleX":-29,"titleY":72}}},
 "layer":[
  {"data":{"name":"pts"},"transform":[{"filter":"datum.p=='Zn' && datum.r=='P'"}],"mark":{"type":"point","shape":"circle","filled":true,"opacity":1,"stroke":"#333","strokeWidth":0.6,"clip":true},
   "encoding":{"fill":{"field":"c","type":"nominal","scale":{"domain":["0 - 20","20 - 40","40 - 60","60 - 80","80 - 100"],"range":["#B9D5EB","#62A3D5","#2B73B6","#0E4C95","#08306B"]},"legend":{"title":["Peace","OM (%)"],"orient":"none","legendX":454,"legendY":372,"encode":{"symbols":{"update":{"size":{"signal":"datum.value=='0 - 20'?22:datum.value=='20 - 40'?75:datum.value=='40 - 60'?115:150"}}}}}},
    "size":{"field":"om","type":"quantitative","scale":{"domain":[0,80],"range":[8,200]},"legend":null}}},
  {"data":{"name":"pts"},"transform":[{"filter":"datum.p=='Zn' && datum.r=='A'"}],"mark":{"type":"point","shape":"circle","filled":true,"opacity":1,"stroke":"#333","strokeWidth":0.6,"clip":true},
   "encoding":{"color":{"field":"c","type":"nominal","scale":{"domain":["0 - 20","20 - 40","40 - 60","60 - 80"],"range":["#F5A88C","#F06A4C","#D3271F","#A00D15"]},"legend":{"title":["Athabasca","OM (%)"],"orient":"none","legendX":379,"legendY":372,"encode":{"symbols":{"update":{"size":{"signal":"datum.value=='0 - 20'?22:datum.value=='20 - 40'?75:datum.value=='40 - 60'?115:150"}}}}}},
    "size":{"field":"om","type":"quantitative","scale":{"domain":[0,80],"range":[8,200]},"legend":null}}},
  {"data":{"name":"lns"},"transform":[{"filter":"datum.p=='Zn' && datum.k=='pi'"}],"mark":{"type":"line","strokeDash":[4,3],"strokeWidth":1.2,"clip":true},"encoding":{"detail":{"field":"id","type":"nominal"},"stroke":{"field":"r","type":"nominal","scale":{"domain":["A","P"],"range":["#C4444C","#3F6FB5"]},"legend":null}}},
  {"data":{"name":"lns"},"transform":[{"filter":"datum.p=='Zn' && datum.k=='fit'"}],"mark":{"type":"line","color":"#1a1a1a","strokeWidth":1.2,"clip":true},"encoding":{"detail":{"field":"id","type":"nominal"}}}
 ]}
],
"config":{
 "font":"Liberation Sans",
 "view":{"stroke":"#333","strokeWidth":1},
 "axis":{"grid":false,"domain":false,"tickColor":"#333","tickSize":4,"tickWidth":1,"labelFont":"Liberation Sans","labelFontSize":11,"labelColor":"#333","labelPadding":1,"labelFlush":false,"labelOverlap":false,"titleFont":"Liberation Sans","titleFontSize":13,"titleFontWeight":"normal","titleColor":"#333"},
 "axisY":{"labelAngle":270,"labelAlign":"center","labelBaseline":"alphabetic","titleAngle":270,"titleAlign":"center","titleBaseline":"middle"},
 "axisX":{"titlePadding":3},
 "legend":{"titleFont":"Liberation Sans","titleFontSize":13,"titleFontWeight":"normal","titleColor":"#333","titleLineHeight":14,"titlePadding":10,"labelFont":"Liberation Sans","labelFontSize":13,"labelColor":"#333","labelOffset":6,"symbolType":"circle","symbolSize":100,"symbolStrokeColor":"#444","symbolStrokeWidth":0.7,"rowPadding":6,"padding":0}
}
}
